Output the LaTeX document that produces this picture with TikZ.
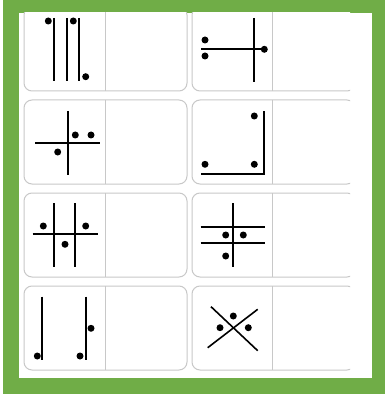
\documentclass[tikz,border=0pt]{standalone}
\usetikzlibrary{calc}
\definecolor{frameg}{RGB}{112,173,71}
\definecolor{cardb}{RGB}{200,200,200}
\tikzset{
  card/.style={draw=cardb, line width=1pt, rounded corners=8pt, fill=white},
  divl/.style={draw=cardb, line width=1pt},
  bar/.style={draw=black, line width=2.1pt},
  thinbar/.style={draw=black, line width=1.6pt},
  dotc/.style={fill=black}
}
\newcommand{\dotat}[1]{\fill[dotc] #1 circle (3.5);}
\begin{document}
\begin{tikzpicture}[x=1pt,y=-1pt]
\useasboundingbox (0,0) rectangle (385,398);
\fill[white] (0,0) rectangle (385,398);
\fill[frameg] (3,0) rectangle (385,394);
\fill[white] (19,13) rectangle (372,378);
\begin{scope}
\clip (19,13) rectangle (350,378);
\foreach \r/\t in {1/7,2/100,3/193,4/286}{
  \draw[card] (24,\t) rectangle (187,\t+84);
  \draw[divl] (105,\t) -- (105,\t+84);
  \draw[card] (192,\t) rectangle (355,\t+84);
  \draw[divl] (272,\t) -- (272,\t+84);
}
\end{scope}
% Row 1 left
\draw[bar] (54.3,18) -- (54.3,81);
\draw[bar] (67,18) -- (67,81);
\draw[bar] (79.3,18) -- (79.3,81);
\dotat{(48.3,21)} \dotat{(73.3,21)} \dotat{(85.7,76.7)}
% Row 1 right
\draw[bar] (254.3,18) -- (254.3,82);
\draw[bar] (201,49.3) -- (264,49.3);
\dotat{(205,40)} \dotat{(205,56)} \dotat{(264.3,49.3)}
% Row 2 left
\draw[bar] (67.7,111) -- (67.7,175);
\draw[bar] (35,143.3) -- (100,143.3);
\dotat{(75.3,135)} \dotat{(91,135)} \dotat{(57.7,152)}
% Row 2 right
\draw[bar] (201,174.3) -- (264.3,174.3) -- (264.3,111);
\dotat{(254.3,116)} \dotat{(205,164.3)} \dotat{(254.3,164.3)}
% Row 3 left
\draw[bar] (54.3,203.3) -- (54.3,267.3);
\draw[bar] (75,203.3) -- (75,267.3);
\draw[bar] (32.7,234.3) -- (97.7,234.3);
\dotat{(43.3,226)} \dotat{(85.7,226)} \dotat{(65,244.3)}
% Row 3 right
\draw[bar] (232.7,203.3) -- (232.7,267.3);
\draw[bar] (200.7,226.7) -- (265,226.7);
\draw[bar] (200.7,243.3) -- (265,243.3);
\dotat{(225.7,235)} \dotat{(243.3,235)} \dotat{(225.7,256)}
% Row 4 left
\draw[bar] (42.3,296.7) -- (42.3,360);
\draw[bar] (85.7,296.7) -- (85.7,360);
\dotat{(37.3,356)} \dotat{(80,356)} \dotat{(91,328.3)}
% Row 4 right
\draw[thinbar] (211,306.7) -- (257.7,350.7);
\draw[thinbar] (207.7,347.7) -- (257.7,309.3);
\dotat{(233.3,316)} \dotat{(220,327.7)} \dotat{(248.3,327.7)}
\end{tikzpicture}
\end{document}
